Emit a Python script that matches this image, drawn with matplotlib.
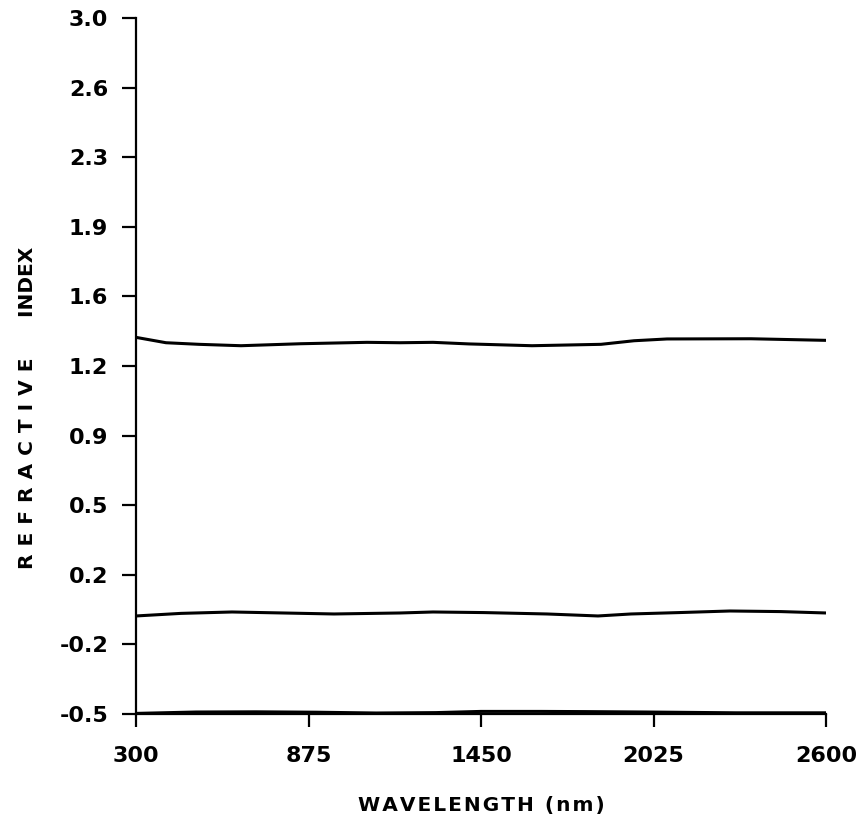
import matplotlib
matplotlib.use("Agg")
import matplotlib.pyplot as plt

# Data
wl_upper = [300, 400, 510, 650, 850, 1070, 1180, 1290, 1410, 1620, 1850, 1960, 2070, 2350, 2600]
n_upper = [1.394, 1.367, 1.359, 1.352, 1.362, 1.369, 1.367, 1.369, 1.361, 1.352, 1.359, 1.377, 1.386, 1.387, 1.379]

wl_mid = [300, 450, 620, 790, 960, 1180, 1290, 1460, 1670, 1840, 1950, 2110, 2280, 2450, 2600]
k_mid = [-0.007, 0.006, 0.013, 0.008, 0.003, 0.008, 0.013, 0.010, 0.003, -0.007, 0.003, 0.010, 0.018, 0.015, 0.008]

wl_low = [300, 500, 700, 900, 1100, 1300, 1450, 1650, 1800, 2000, 2300, 2600]
v_low = [-0.497, -0.490, -0.489, -0.491, -0.495, -0.493, -0.487, -0.487, -0.488, -0.490, -0.494, -0.494]

x_ticks = [300, 875, 1450, 2025, 2600]
y_ticks = [-0.5, -0.15, 0.2, 0.55, 0.9, 1.25, 1.6, 1.95, 2.3, 2.65, 3.0]
y_tick_labels = ["-0.5", "-0.2", "0.2", "0.5", "0.9", "1.2", "1.6", "1.9", "2.3", "2.6", "3.0"]

x_label = "WAVELENGTH (nm)"
y_label_words = ["REFRACTIVE", "INDEX"]


def spaced(s, sep="\u200a"):
    return sep.join(s)


fig = plt.figure(figsize=(8.67, 8.19), dpi=100)
ax = fig.add_axes([136/867, 105/819, 690/867, 696/819])

for xs, ys in [(wl_upper, n_upper), (wl_mid, k_mid), (wl_low, v_low)]:
    ax.plot(xs, ys, color="black", lw=2.2, solid_capstyle="butt")

ax.set_xlim(300, 2600)
ax.set_ylim(-0.5, 3.0)
ax.set_xticks(x_ticks)
ax.set_xticklabels([str(t) for t in x_ticks])
ax.set_yticks(y_ticks)
ax.set_yticklabels(y_tick_labels)

for s in ["top", "right"]:
    ax.spines[s].set_visible(False)
for s in ["left", "bottom"]:
    ax.spines[s].set_linewidth(1.6)

ax.tick_params(axis="y", direction="out", length=10, width=1.6, pad=10,
               labelsize=16)
ax.tick_params(axis="x", direction="out", length=9, width=1.6, pad=14,
               labelsize=16)
for lab in ax.get_xticklabels() + ax.get_yticklabels():
    lab.set_fontweight("bold")

ax.set_xlabel(spaced(x_label), fontsize=14.5, fontweight="bold", labelpad=22)
ylab = (spaced(y_label_words[0], "\u2009\u2009") + "\u2002\u2002\u2002\u2002"
        + y_label_words[1])
ax.set_ylabel(ylab, fontsize=14.5, fontweight="bold")
ax.yaxis.set_label_coords((37 - 136) / 690, (714 - 408) / 696)

fig.savefig("out.png", dpi=100)
